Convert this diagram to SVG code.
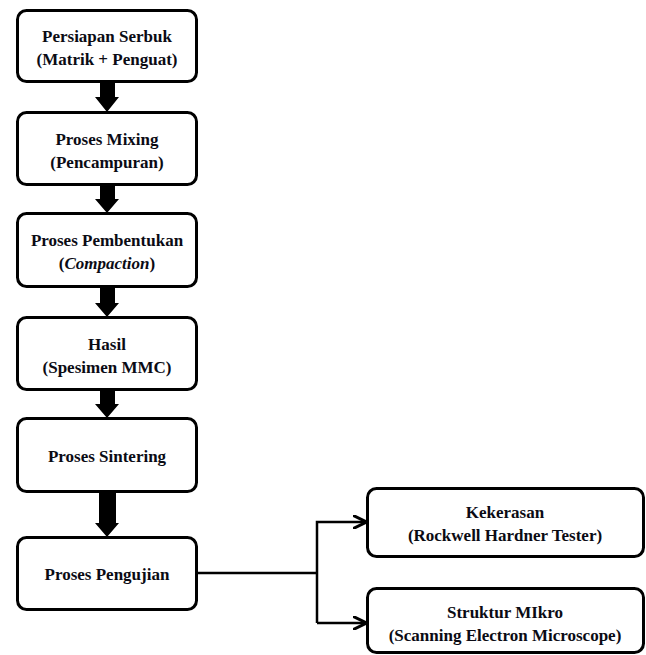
<svg xmlns="http://www.w3.org/2000/svg" width="646" height="655" viewBox="0 0 646 655">
<defs>
<style>
.box{fill:#fff;stroke:#000;stroke-width:3}
.t{font-family:"Liberation Serif",serif;font-weight:bold;font-size:17px;fill:#0b0b14;text-anchor:middle}
.ln{fill:none;stroke:#000;stroke-width:2.5}
.blk{fill:#000}
</style>
<marker id="ah" viewBox="0 0 10 10" refX="9" refY="5" markerWidth="5.5" markerHeight="5.5" orient="auto" markerUnits="strokeWidth">
<path d="M0,0 L10,5 L0,10" fill="none" stroke="#000" stroke-width="2.2"/>
</marker>
</defs>
<rect width="646" height="655" fill="#fff"/>
<g id="n1"><rect class="box" x="17.5" y="10.5" width="179" height="71" rx="9"/>
<text class="t" x="107" y="42">Persiapan Serbuk</text><text class="t" x="107" y="65">(Matrik + Penguat)</text></g>
<g id="n2"><rect class="box" x="17.5" y="112.5" width="179" height="72" rx="9"/>
<text class="t" x="107" y="145">Proses Mixing</text><text class="t" x="107" y="168">(Pencampuran)</text></g>
<g id="n3"><rect class="box" x="17.5" y="213.5" width="179" height="73" rx="9"/>
<text class="t" x="107" y="246">Proses Pembentukan</text><text class="t" x="107" y="269">(<tspan font-style="italic">Compaction</tspan>)</text></g>
<g id="n4"><rect class="box" x="17.5" y="317.5" width="179" height="72" rx="9"/>
<text class="t" x="107" y="350">Hasil</text><text class="t" x="107" y="373">(Spesimen MMC)</text></g>
<g id="n5"><rect class="box" x="17.5" y="418.5" width="179" height="73" rx="9"/>
<text class="t" x="107" y="462">Proses Sintering</text></g>
<g id="n6"><rect class="box" x="17.5" y="537.5" width="179" height="72" rx="9"/>
<text class="t" x="107" y="580">Proses Pengujian</text></g>
<g id="n7"><rect class="box" x="367.5" y="488.5" width="276" height="68" rx="9"/>
<text class="t" x="505" y="518">Kekerasan</text><text class="t" x="505" y="541">(Rockwell Hardner Tester)</text></g>
<g id="n8"><rect class="box" x="367.5" y="588.5" width="276" height="64" rx="9"/>
<text class="t" x="505" y="618">Struktur MIkro</text><text class="t" x="505" y="641">(Scanning Electron Microscope)</text></g>
<g id="connectors">
<path class="blk" d="M100,82 H115 V97 H119 L107,112 L95,97 H100 Z"/>
<path class="blk" d="M100,185 H115 V199 H119 L107,213 L95,199 H100 Z"/>
<path class="blk" d="M100,287 H115 V303 H119 L107,317 L95,303 H100 Z"/>
<path class="blk" d="M100,390 H115 V404 H119 L107,418 L95,404 H100 Z"/>
<path class="blk" d="M99,492 H116 V523 H119 L107,537 L95,523 H99 Z"/>
<path class="ln" d="M197,573 H317"/>
<path class="ln" d="M317,623 V522 H365" marker-end="url(#ah)"/>
<path class="ln" d="M317,623 H365" marker-end="url(#ah)"/>
</g>
</svg>
